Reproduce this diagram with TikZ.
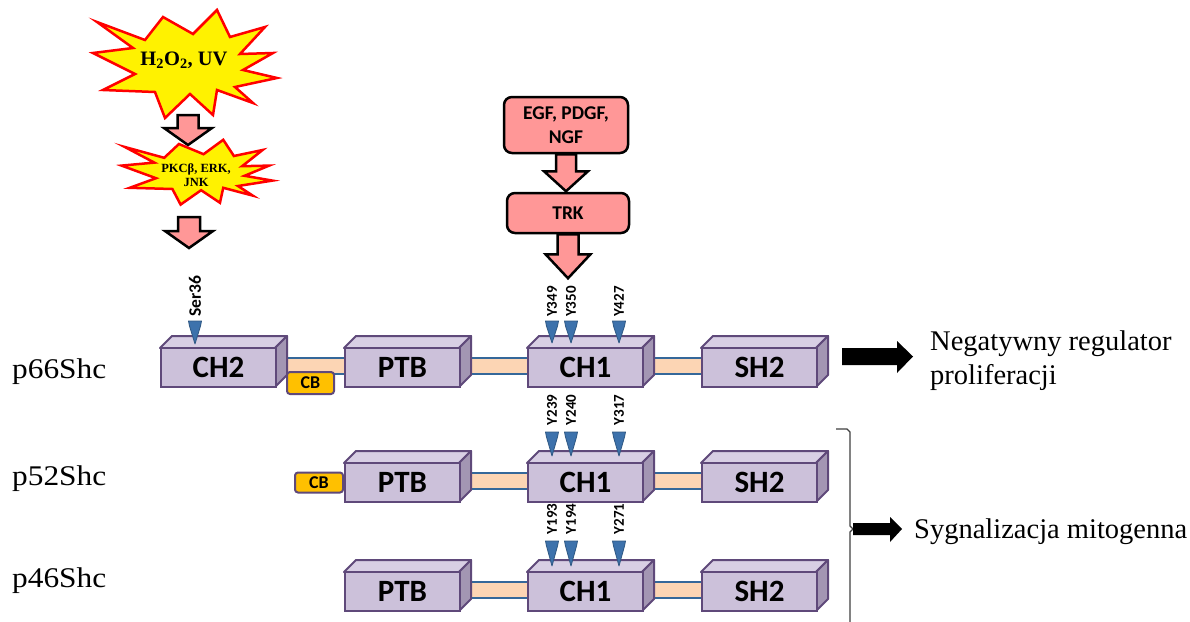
\documentclass[tikz,border=0pt]{standalone}
\usepackage{fontspec}
\setmainfont{Liberation Serif}
\newfontfamily\pfont{Liberation Serif}[FakeStretch=1.1]
\newfontfamily\carl{Carlito}
\usetikzlibrary{backgrounds}
\definecolor{domf}{HTML}{CCC1DA}
\definecolor{domt}{HTML}{D8CFE4}
\definecolor{doms}{HTML}{A396B3}
\definecolor{domb}{HTML}{5F497A}
\definecolor{linkf}{HTML}{FCD5B4}
\definecolor{linkl}{HTML}{35689A}
\definecolor{trif}{HTML}{3D72AC}
\definecolor{trib}{HTML}{2F5883}
\definecolor{cbf}{HTML}{FFC000}
\definecolor{salmon}{HTML}{FF9797}
\definecolor{brk}{HTML}{404040}
\newcommand\dom[4]{%
  \filldraw[topface] (#2,#3-19.5) -- (#2+12,#3-31.5) -- (#2+127,#3-31.5) -- (#2+115,#3-19.5) -- cycle;
  \filldraw[sideface] (#2+115,#3-19.5) -- (#2+127,#3-31.5) -- (#2+127,#3+7.5) -- (#2+115,#3+19.5) -- cycle;
  \node[domfront] (#1) at (#2,#3) {#4};}
\newcommand\linker[2]{%
  \fill[linkf] ([yshift=10pt]#1.east) rectangle ([yshift=-6pt]#2.west);
  \draw[linkline] ([yshift=10pt]#1.east) -- ([yshift=10pt]#2.west);
  \draw[linkline] ([yshift=-6pt]#1.east) -- ([yshift=-6pt]#2.west);}
\newcommand\ptri[3]{%
  \filldraw[tri] (#1-6.5,#2) -- (#1+6.5,#2) -- (#1+5.5,#2+5) -- (#1,#3) -- (#1-5.5,#2+5) -- cycle;}
\newcommand\burstpath{(-88,-40) -- (-40,-22) -- (-22,-45) -- (8,-28) -- (32,-52) -- (45,-25) -- (80,-35) -- (55,-8) -- (88,-9) -- (58,8) -- (92,16) -- (50,25) -- (68,41) -- (32,28) -- (28,53) -- (5,32) -- (-20,56) -- (-30,30) -- (-82,28) -- (-50,12) -- (-92,-9) -- (-52,-14) -- cycle}
\begin{document}
\begin{tikzpicture}[x=1pt,y=-1pt,
  topface/.style={draw=domb,fill=domt,line width=2pt,line join=round},
  sideface/.style={draw=domb,fill=doms,line width=2pt,line join=round},
  domfront/.style={draw=domb,fill=domf,line width=2pt,minimum width=115pt,minimum height=39pt,inner sep=0pt,anchor=west,font=\carl\bfseries\fontsize{31}{32}\selectfont},
  linkline/.style={draw=linkl,line width=2pt},
  tri/.style={fill=trif,draw=trib,line width=0.8pt,line join=round},
  ylab/.style={rotate=90,inner sep=0pt,font=\carl\bfseries\fontsize{15}{15}\selectfont},
  cb/.style={draw=domb,fill=cbf,line width=2pt,rounded corners=3pt,inner sep=0pt,font=\carl\bfseries\fontsize{18}{18}\selectfont},
  burst/.style={fill=yellow,draw=red,line width=2.5pt,line join=miter},
  barrow/.style={fill=salmon,draw=black,line width=2.5pt,line join=miter},
  sbox/.style={fill=salmon,draw=black,line width=2.5pt,rounded corners=8pt,inner sep=0pt,align=center,font=\carl\bfseries\fontsize{19.5}{24}\selectfont},
  serlab/.style={inner sep=0pt,font=\fontsize{28.5}{32}\selectfont},
  plab/.style={inner sep=0pt,font=\pfont\fontsize{28.5}{32}\selectfont}]
\useasboundingbox (0,0) rectangle (1190,621);
\begin{pgfonlayer}{background}
\fill[white] (0,0) rectangle (1190,621);
\end{pgfonlayer}

% --- starbursts ---
\coordinate (b1) at (185,62);
\filldraw[burst,shift={(b1)}] \burstpath;
\node[inner sep=0pt,font=\bfseries\fontsize{20.5}{20.5}\selectfont] (h2o2) at (184,60) {H\textsubscript{2}O\textsubscript{2}, UV};
\coordinate (a1) at (188,115);
\filldraw[barrow,shift={(a1)}] (-10.5,0) -- (10.5,0) -- (10.5,13) -- (24,13) -- (0,30) -- (-24,13) -- (-10.5,13) -- cycle;
\coordinate (b2) at (197,171);
\filldraw[burst,shift={(b2)},xscale=0.82,yscale=0.6] \burstpath;
\node[inner sep=0pt,align=center,font=\bfseries\fontsize{12.5}{14}\selectfont] (pkc) at (196,175) {PKCβ, ERK,\\JNK};
\coordinate (a2) at (189,217);
\filldraw[barrow,shift={(a2)}] (-11,0) -- (11,0) -- (11,14) -- (24,14) -- (0,31) -- (-24,14) -- (-11,14) -- cycle;

% --- growth factors ---
\node[sbox,minimum width=124pt,minimum height=56pt] (egf) at (566,125) {EGF, PDGF,\\NGF};
\node[sbox,minimum width=122pt,minimum height=40pt] (trk) at (568,213) {TRK};
\filldraw[barrow,shift={(egf.south)}] (-10,0) -- (10,0) -- (10,17) -- (22,17) -- (0,37) -- (-22,17) -- (-10,17) -- cycle;
\filldraw[barrow,shift={(trk.south)}] (-10.5,0) -- (10.5,0) -- (10.5,20) -- (22.5,20) -- (0,44) -- (-22.5,20) -- (-10.5,20) -- cycle;

% --- row 1: p66Shc ---
\dom{ch2a}{160}{367.5}{CH2}
\dom{ptba}{344}{367.5}{PTB}
\dom{ch1a}{527}{367.5}{CH1}
\dom{sh2a}{701}{367.5}{SH2}
\node[cb,minimum width=47pt,minimum height=22pt] (cba) at (310.5,383) {CB};
% --- row 2: p52Shc ---
\dom{ptbb}{344}{482.5}{PTB}
\dom{ch1b}{527}{482.5}{CH1}
\dom{sh2b}{701}{482.5}{SH2}
\node[cb,minimum width=48pt,minimum height=20pt,anchor=east] (cbb) at (ptbb.west) {CB};
% --- row 3: p46Shc ---
\dom{ptbc}{344}{591.5}{PTB}
\dom{ch1c}{527}{591.5}{CH1}
\dom{sh2c}{701}{591.5}{SH2}

\begin{pgfonlayer}{background}
\linker{ch2a}{ptba}
\linker{ptba}{ch1a}
\linker{ch1a}{sh2a}
\linker{ptbb}{ch1b}
\linker{ch1b}{sh2b}
\linker{ptbc}{ch1c}
\linker{ch1c}{sh2c}
\end{pgfonlayer}

% --- phosphorylation sites ---
\ptri{195}{321}{344}
\node[ylab,font=\carl\bfseries\fontsize{17.5}{17.5}\selectfont] (ser) at (195,296) {Ser36};
\ptri{552}{321}{343}\ptri{571}{321}{343}\ptri{619}{321}{343}
\node[ylab] (y349) at (552,301.5) {Y349};
\node[ylab] (y350) at (571,301.5) {Y350};
\node[ylab] (y427) at (619,301.5) {Y427};
\ptri{552}{432}{456}\ptri{571}{432}{456}\ptri{619}{432}{456}
\node[ylab] (y239) at (552,410) {Y239};
\node[ylab] (y240) at (571,410) {Y240};
\node[ylab] (y317) at (619,410) {Y317};
\ptri{552}{541}{566}\ptri{571}{541}{566}\ptri{619}{541}{566}
\node[ylab] (y193) at (552,519) {Y193};
\node[ylab] (y194) at (571,519) {Y194};
\node[ylab] (y271) at (619,519) {Y271};

% --- left labels ---
\node[plab,anchor=base west] (p66) at (12,378) {p66Shc};
\node[plab,anchor=base west] (p52) at (12,485) {p52Shc};
\node[plab,anchor=base west] (p46) at (12,587) {p46Shc};

% --- right side ---
\coordinate (r1) at (842,356.5);
\fill[shift={(r1)}] (0,-8.5) -- (55,-8.5) -- (55,-15.5) -- (71,0) -- (55,16.5) -- (55,8.5) -- (0,8.5) -- cycle;
\node[serlab,anchor=north west,align=left] (neg) at (930,331) {Negatywny regulator\\[2pt]proliferacji};
\draw[brk,line width=1.3pt] (836,429) -- (847,429) -- (850,432) -- (850,526) -- (853,529) -- (850,532) -- (850,625);
\coordinate (r2) at (853,529);
\fill[shift={(r2)}] (0,-6) -- (37,-6) -- (37,-12) -- (49,0) -- (37,13) -- (37,6) -- (0,6) -- cycle;
\node[serlab,anchor=base west] (syg) at (914,538) {Sygnalizacja mitogenna};
\end{tikzpicture}
\end{document}
